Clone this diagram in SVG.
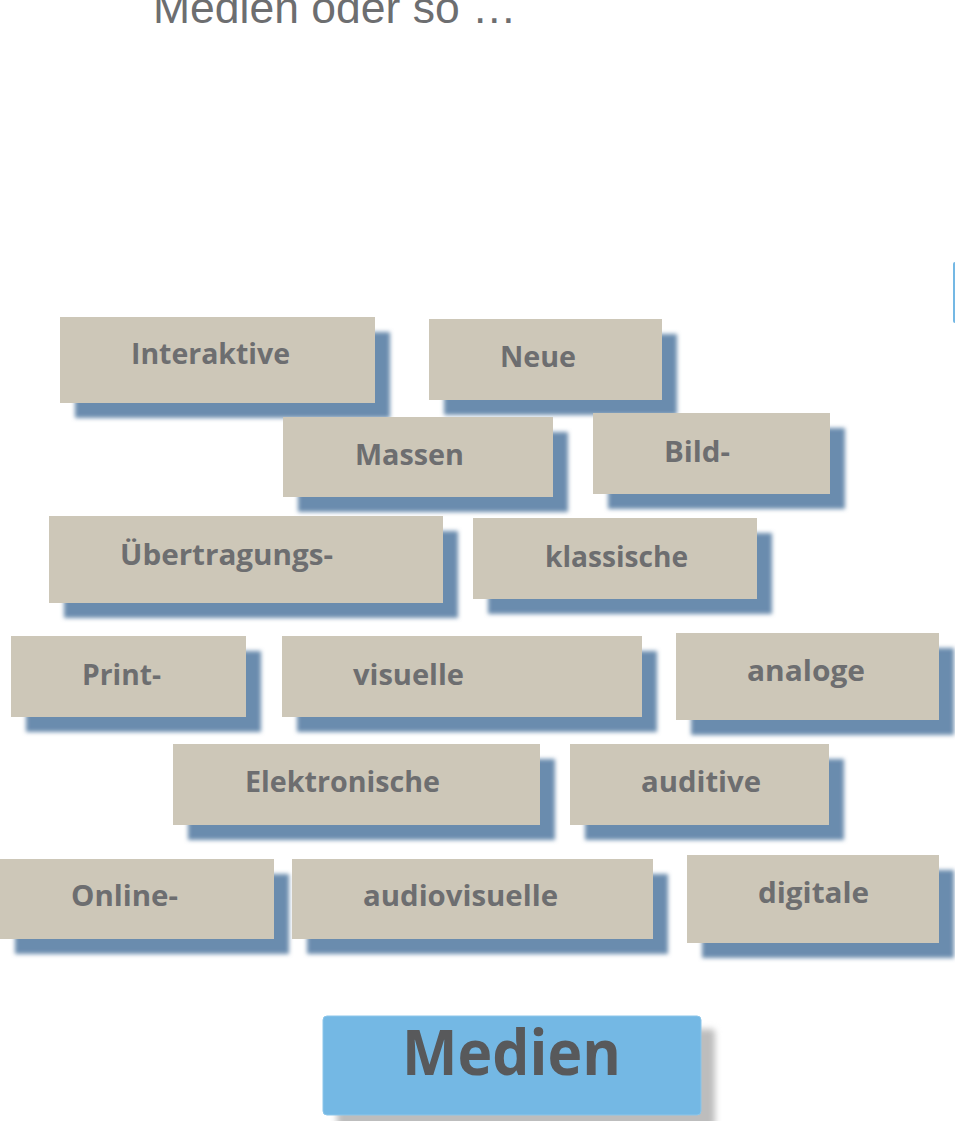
<svg xmlns="http://www.w3.org/2000/svg" width="955" height="1121" viewBox="0 0 955 1121">
<defs>
<filter id="blur" x="-10%" y="-20%" width="120%" height="140%"><feGaussianBlur stdDeviation="2"/></filter>
<filter id="blur2" x="-10%" y="-20%" width="120%" height="140%"><feGaussianBlur stdDeviation="3"/></filter>
</defs>
<style>
.box{fill:#cdc7b8}
.sh{fill:#6a8cae;filter:url(#blur)}
.lbl{font-family:"Open Sans","Noto Sans","DejaVu Sans",sans-serif;font-weight:700;font-size:28px;fill:#6d6e70}
.title{font-family:"Liberation Sans",Arial,sans-serif;font-size:44.5px;fill:#6d6e70}
</style>
<rect width="955" height="1121" fill="#ffffff"/>
<text class="title" x="153" y="23">Medien oder so …</text>
<rect x="953" y="262" width="10" height="61" rx="2" fill="#74b8e4"/>
<g id="connectors"/>
<g id="n-interaktive"><rect class="sh" x="75" y="332" width="315" height="86"/><rect class="box" x="60" y="317" width="315" height="86"/><text class="lbl" x="131" y="364" textLength="159" lengthAdjust="spacingAndGlyphs">Interaktive</text></g>
<g id="n-neue"><rect class="sh" x="444" y="334" width="233" height="81"/><rect class="box" x="429" y="319" width="233" height="81"/><text class="lbl" x="500" y="367" textLength="76" lengthAdjust="spacingAndGlyphs">Neue</text></g>
<g id="n-massen"><rect class="sh" x="298" y="432" width="270" height="80"/><rect class="box" x="283" y="417" width="270" height="80"/><text class="lbl" x="355" y="465" textLength="109" lengthAdjust="spacingAndGlyphs">Massen</text></g>
<g id="n-bild"><rect class="sh" x="608" y="428" width="237" height="81"/><rect class="box" x="593" y="413" width="237" height="81"/><text class="lbl" x="664" y="462" textLength="66" lengthAdjust="spacingAndGlyphs">Bild-</text></g>
<g id="n-uebertragungs"><rect class="sh" x="64" y="531" width="394" height="87"/><rect class="box" x="49" y="516" width="394" height="87"/><text class="lbl" x="120" y="565" textLength="213" lengthAdjust="spacingAndGlyphs">Übertragungs-</text></g>
<g id="n-klassische"><rect class="sh" x="488" y="533" width="284" height="81"/><rect class="box" x="473" y="518" width="284" height="81"/><text class="lbl" x="545" y="567" textLength="143" lengthAdjust="spacingAndGlyphs">klassische</text></g>
<g id="n-print"><rect class="sh" x="26" y="651" width="235" height="81"/><rect class="box" x="11" y="636" width="235" height="81"/><text class="lbl" x="82" y="685" textLength="79" lengthAdjust="spacingAndGlyphs">Print-</text></g>
<g id="n-visuelle"><rect class="sh" x="297" y="651" width="360" height="81"/><rect class="box" x="282" y="636" width="360" height="81"/><text class="lbl" x="353" y="685" textLength="111" lengthAdjust="spacingAndGlyphs">visuelle</text></g>
<g id="n-analoge"><rect class="sh" x="691" y="648" width="263" height="87"/><rect class="box" x="676" y="633" width="263" height="87"/><text class="lbl" x="747" y="681" textLength="118" lengthAdjust="spacingAndGlyphs">analoge</text></g>
<g id="n-elektronische"><rect class="sh" x="188" y="759" width="367" height="81"/><rect class="box" x="173" y="744" width="367" height="81"/><text class="lbl" x="245" y="792" textLength="195" lengthAdjust="spacingAndGlyphs">Elektronische</text></g>
<g id="n-auditive"><rect class="sh" x="585" y="759" width="259" height="81"/><rect class="box" x="570" y="744" width="259" height="81"/><text class="lbl" x="641" y="792" textLength="120" lengthAdjust="spacingAndGlyphs">auditive</text></g>
<g id="n-online"><rect class="sh" x="15" y="874" width="274" height="80"/><rect class="box" x="0" y="859" width="274" height="80"/><text class="lbl" x="71" y="906" textLength="107" lengthAdjust="spacingAndGlyphs">Online-</text></g>
<g id="n-audiovisuelle"><rect class="sh" x="307" y="874" width="361" height="80"/><rect class="box" x="292" y="859" width="361" height="80"/><text class="lbl" x="363" y="906" textLength="195" lengthAdjust="spacingAndGlyphs">audiovisuelle</text></g>
<g id="n-digitale"><rect class="sh" x="702" y="870" width="252" height="88"/><rect class="box" x="687" y="855" width="252" height="88"/><text class="lbl" x="758" y="903" textLength="111" lengthAdjust="spacingAndGlyphs">digitale</text></g>
<g id="n-medien"><rect x="337" y="1029" width="378" height="99" rx="4" fill="#bdbdbd" filter="url(#blur2)"/><rect x="323" y="1016" width="378" height="99" rx="4" fill="#74b8e4" stroke="#8cc6ea" stroke-width="1"/><text x="402" y="1075" textLength="219" lengthAdjust="spacingAndGlyphs" style="font-family:'Open Sans','Noto Sans','DejaVu Sans',sans-serif;font-weight:700;font-size:62px;fill:#58595b">Medien</text></g>
</svg>
